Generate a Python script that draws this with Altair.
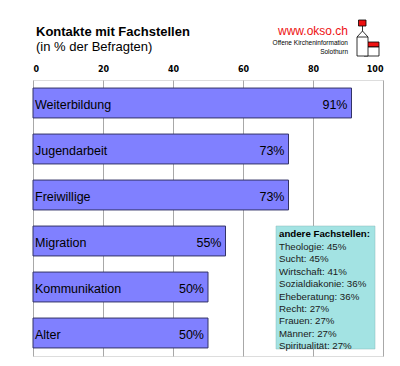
import altair as alt
import pandas as pd

categories = ["Weiterbildung", "Jugendarbeit", "Freiwillige", "Migration", "Kommunikation", "Alter"]
values = [91, 73, 73, 55, 50, 50]
other_header = "andere Fachstellen:"
other_names = ["Theologie: ", "Sucht:", "Wirtschaft:", "Sozialdiakonie:", "Eheberatung:", "Recht:", "Frauen:", "Männer:", "Spiritualität:"]
other_values = [45, 45, 41, 36, 36, 27, 27, 27, 27]
x_ticks = [0, 20, 40, 60, 80, 100]
title_text = "Kontakte mit Fachstellen"
subtitle_text = "(in % der Befragten)"

df = pd.DataFrame({"cat": categories, "val": values})
df["lab"] = [f"{v}%" for v in values]
other_lines = [f"{n} {v}%" for n, v in zip(other_names, other_values)]
one = pd.DataFrame({"k": [0]})

W, H = 350, 276
FONT = "Liberation Sans"

y_scale = alt.Scale(paddingInner=0.35, paddingOuter=0.175)
y_enc = alt.Y("cat:N", sort=categories, axis=None, scale=y_scale)
x_scale = alt.Scale(domain=[0, 100], nice=False, zero=True)

bars = alt.Chart(df).mark_bar(color="#8080FF", stroke="#333366", strokeWidth=1).encode(
    x=alt.X("val:Q", scale=x_scale,
            axis=alt.Axis(orient="top", values=x_ticks, title=None, ticks=False,
                          labelFont="DejaVu Sans", labelFontWeight="bold", labelFontSize=8,
                          labelColor="#000000", labelPadding=7, domain=False,
                          grid=True, gridColor="#A8A8A8", gridWidth=1)),
    y=y_enc,
)

cat_text = alt.Chart(df).mark_text(align="left", baseline="bottom", dx=2,
                                   font=FONT, fontSize=12.5, color="#000000").encode(
    x=alt.value(0),
    y=alt.Y("cat:N", sort=categories, axis=None, scale=y_scale, bandPosition=0.8),
    text="cat:N",
)

val_text = alt.Chart(df).mark_text(align="right", baseline="middle", dx=-4, dy=2,
                                   font=FONT, fontSize=12.5, color="#000000").encode(
    x=alt.X("val:Q", scale=x_scale),
    y=y_enc,
    text="lab:N",
)

box = alt.Chart(one).mark_rect(fill="#A3E3E3", stroke="#88BBBB", strokeWidth=0.5).encode(
    x=alt.value(243), x2=alt.value(342), y=alt.value(146), y2=alt.value(269)
)

box_head = alt.Chart(one).mark_text(align="left", baseline="alphabetic", font=FONT,
                                    fontSize=9.7, fontWeight="bold", color="#000000").encode(
    x=alt.value(246), y=alt.value(157), text=alt.value(other_header)
)

box_lines = alt.Chart(one).mark_text(align="left", baseline="alphabetic", font=FONT,
                                     fontSize=9.7, fontWeight="normal", lineHeight=12.4,
                                     color="#1a1a1a").encode(
    x=alt.value(246), y=alt.value(170), text=alt.value(other_lines)
)

title_mark = alt.Chart(one).mark_text(align="left", baseline="alphabetic", font=FONT,
                                      fontSize=13, fontWeight="bold", color="#000000").encode(
    x=alt.value(3), y=alt.value(-44), text=alt.value(title_text)
)
subtitle_mark = alt.Chart(one).mark_text(align="left", baseline="alphabetic", font=FONT,
                                         fontSize=13, color="#000000").encode(
    x=alt.value(3), y=alt.value(-29), text=alt.value(subtitle_text)
)

logo_url = alt.Chart(one).mark_text(align="right", baseline="alphabetic", font=FONT,
                                    fontSize=12, color="#EE1111").encode(
    x=alt.value(315), y=alt.value(-45), text=alt.value("www.okso.ch")
)
logo_sub = alt.Chart(one).mark_text(align="right", baseline="alphabetic", font=FONT,
                                    fontSize=6.5, fontWeight="normal", lineHeight=9,
                                    color="#000000").encode(
    x=alt.value(315), y=alt.value(-35),
    text=alt.value(["Offene Kircheninformation", "Solothurn"])
)

# small church logo (decoration)
house_roof = alt.Chart(one).mark_rect(fill="#EE1111", stroke="#000000", strokeWidth=0.8).encode(
    x=alt.value(331), x2=alt.value(346), y=alt.value(-38), y2=alt.value(-33))
house_body = alt.Chart(one).mark_rect(fill="#FFFFFF", stroke="#000000", strokeWidth=0.8).encode(
    x=alt.value(331), x2=alt.value(346), y=alt.value(-33), y2=alt.value(-24))
tower_body = alt.Chart(one).mark_rect(fill="#FFFFFF", stroke="#000000", strokeWidth=0.8).encode(
    x=alt.value(324), x2=alt.value(335), y=alt.value(-43), y2=alt.value(-24))
roof_l = alt.Chart(one).mark_rule(color="#000000", strokeWidth=0.8).encode(
    x=alt.value(324), x2=alt.value(329.5), y=alt.value(-43), y2=alt.value(-49))
roof_r = alt.Chart(one).mark_rule(color="#000000", strokeWidth=0.8).encode(
    x=alt.value(329.5), x2=alt.value(335), y=alt.value(-49), y2=alt.value(-43))
neck = alt.Chart(one).mark_rule(color="#000000", strokeWidth=0.8).encode(
    x=alt.value(329.5), y=alt.value(-54), y2=alt.value(-49))
hat = alt.Chart(one).mark_rect(fill="#EE1111", stroke="#000000", strokeWidth=0.8).encode(
    x=alt.value(325.5), x2=alt.value(333), y=alt.value(-60), y2=alt.value(-54))

chart = alt.layer(bars, cat_text, val_text, box, box_head, box_lines,
                  title_mark, subtitle_mark, logo_url, logo_sub,
                  house_roof, house_body, tower_body, roof_l, roof_r, neck, hat).properties(
    width=W, height=H,
    autosize=alt.AutoSizeParams(type="none"),
    padding={"left": 25, "top": 72, "right": 9, "bottom": 2},
).configure_view(
    fill="#E2E2E2", stroke="#A0A0A0", strokeWidth=1
).configure(background="#FFFFFF")

chart.save("out.html", embed_options={"renderer": "svg", "actions": False})
